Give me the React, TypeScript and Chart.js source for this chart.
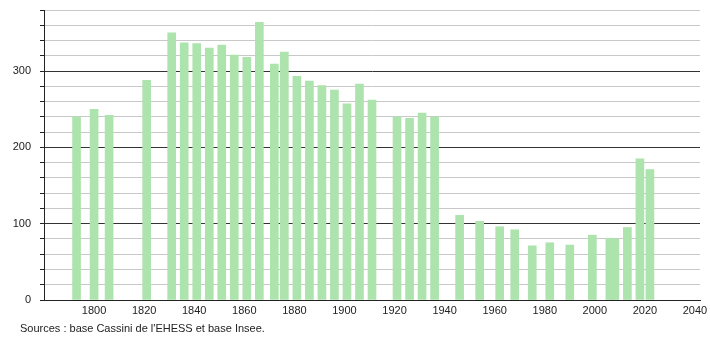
import React, { useEffect, useRef } from "react";
import { Chart, registerables } from "chart.js";

Chart.register(...registerables);

const years = [1793, 1800, 1806, 1821, 1831, 1836, 1841, 1846, 1851, 1856, 1861, 1866, 1872, 1876, 1881, 1886, 1891, 1896, 1901, 1906, 1911, 1921, 1926, 1931, 1936, 1946, 1954, 1962, 1968, 1975, 1982, 1990, 1999, 2006, 2008, 2013, 2018, 2022];
const population = [240, 250, 242, 288, 350, 337, 336, 330, 334, 321, 318, 364, 309, 325, 293, 287, 281, 275, 257, 283, 262, 240, 238, 245, 240, 111, 103, 96, 92, 71, 75, 72, 85, 81, 80, 95, 185, 171];
const xTicks = [1800, 1820, 1840, 1860, 1880, 1900, 1920, 1940, 1960, 1980, 2000, 2020, 2040];
const yTicks = [0, 20, 40, 60, 80, 100, 120, 140, 160, 180, 200, 220, 240, 260, 280, 300, 320, 340, 360, 380];
const yLabels = [0, 100, 200, 300];
const sourceText = "Sources : base Cassini de l'EHESS et base Insee.";

export default function App() {
  const ref = useRef<HTMLCanvasElement | null>(null);
  useEffect(() => {
    if (!ref.current) return;
    const chart = new Chart(ref.current, {
      type: "bar",
      data: {
        datasets: [
          {
            data: years.map((y, i) => ({ x: y, y: population[i] })),
            backgroundColor: "#ade3ad",
            barThickness: 8,
            borderWidth: 0,
          },
        ],
      },
      options: {
        animation: false,
        responsive: false,
        maintainAspectRatio: false,
        layout: { padding: { left: 0, top: 10, right: 10, bottom: 0 } },
        plugins: { legend: { display: false }, tooltip: { enabled: false } },
        scales: {
          x: {
            type: "linear",
            offset: false,
            min: 1780,
            max: 2042,
            afterBuildTicks: (axis: any) => {
              axis.ticks = xTicks.map((v) => ({ value: v }));
            },
            afterFit: (axis: any) => {
              axis.height = 40;
              axis.paddingLeft = 0;
              axis.paddingRight = 0;
            },
            grid: { display: false, drawTicks: false, offset: false },
            border: { display: true, color: "#222", width: 1 },
            ticks: {
              padding: 4,
              color: "#222",
              autoSkip: false,
              font: { family: "'Liberation Sans', Arial, sans-serif", size: 11 },
              maxRotation: 0,
              callback: (v: any) => String(v),
            },
          },
          y: {
            min: 0,
            max: 380,
            afterBuildTicks: (axis: any) => {
              axis.ticks = yTicks.map((v) => ({ value: v }));
            },
            afterFit: (axis: any) => {
              axis.width = 44;
              axis.paddingTop = 0;
              axis.paddingBottom = 0;
            },
            ticks: {
              padding: 9,
              color: "#222",
              autoSkip: false,
              font: { family: "'Liberation Sans', Arial, sans-serif", size: 11 },
              callback: (v: any) => (yLabels.includes(Number(v)) ? String(v) : ""),
            },
            grid: {
              color: (ctx: any) => (ctx.tick && ctx.tick.value % 100 === 0 ? "#333" : "#c8c8c8"),
              tickColor: "#222",
              tickLength: 4,
              lineWidth: 1,
            },
            border: { display: true, color: "#222", width: 1 },
          },
        },
      },
    });
    return () => chart.destroy();
  }, []);
  return (
    <div style={{ position: "fixed", left: 0, top: 0, width: 710, height: 340, background: "#fff" }}>
      <canvas ref={ref} width={710} height={340} style={{ display: "block" }} />
      <div
        style={{
          position: "absolute",
          left: 20,
          top: 322,
          fontFamily: "'Liberation Sans', Arial, sans-serif",
          fontSize: 11,
          color: "#222",
          whiteSpace: "nowrap",
        }}
      >
        {sourceText}
      </div>
    </div>
  );
}
